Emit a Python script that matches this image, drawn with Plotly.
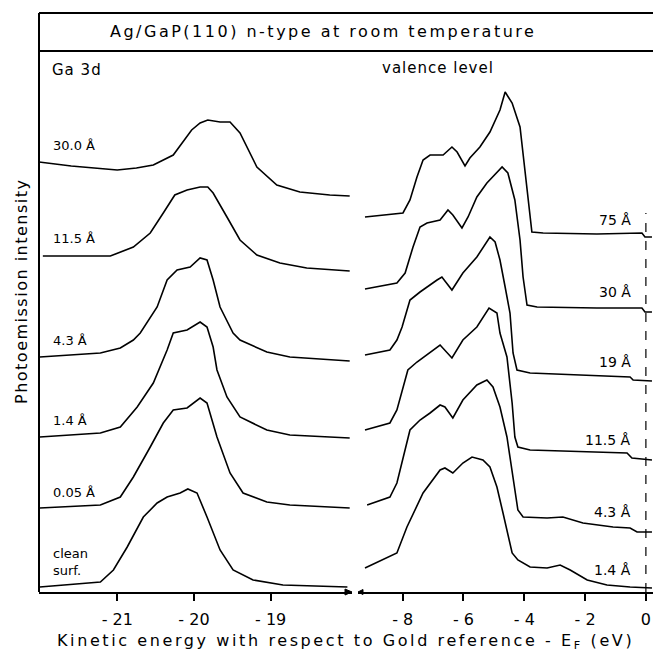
import plotly.graph_objects as go

# ---------------- data ----------------
# Ga 3d core level spectra: kinetic energy (eV) and intensity (arb. units, stacked)
ga_labels = ["30.0 Å", "11.5 Å", "4.3 Å", "1.4 Å", "0.05 Å", "clean<br>surf."]
ga_energy = [
    [-22.02, -21.6, -21.3, -21.0, -20.75, -20.53, -20.27, -20.03, -19.92, -19.82, -19.66, -19.53, -19.40, -19.18, -18.92, -18.62, -18.23, -17.97],
    [-21.97, -21.09, -20.79, -20.57, -20.40, -20.25, -20.09, -19.92, -19.82, -19.75, -19.57, -19.40, -19.18, -18.88, -18.53, -18.23, -17.97],
    [-22.01, -21.22, -20.96, -20.79, -20.70, -20.48, -20.35, -20.22, -20.05, -19.92, -19.83, -19.75, -19.66, -19.49, -19.40, -19.05, -18.75, -18.23, -17.97],
    [-22.01, -21.22, -20.96, -20.74, -20.53, -20.35, -20.27, -20.09, -19.92, -19.83, -19.75, -19.70, -19.57, -19.40, -19.05, -18.75, -18.23, -17.97],
    [-22.01, -21.22, -20.96, -20.79, -20.57, -20.40, -20.27, -20.09, -19.92, -19.83, -19.70, -19.53, -19.36, -19.05, -18.75, -18.23, -17.97],
    [-22.01, -21.22, -21.05, -20.87, -20.66, -20.48, -20.35, -20.18, -20.08, -19.96, -19.83, -19.66, -19.49, -19.23, -18.84, -18.00],
]
ga_intensity = [
    [430, 426, 424, 422, 424, 427, 437, 462, 469, 472, 470, 470, 459, 425, 407, 400, 397, 396],
    [336, 336, 345, 359, 379, 397, 402, 405, 405, 399, 375, 352, 337, 329, 324, 322, 321],
    [235, 239, 244, 252, 259, 285, 312, 322, 325, 334, 332, 312, 285, 259, 252, 240, 235, 232, 231],
    [155, 159, 165, 185, 209, 242, 259, 262, 270, 265, 245, 222, 195, 175, 162, 157, 155, 154],
    [84, 87, 95, 115, 145, 169, 182, 184, 194, 189, 155, 119, 99, 90, 87, 85, 84],
    [5, 10, 22, 45, 75, 89, 95, 99, 103, 99, 75, 42, 22, 12, 7, 5],
]
ga_label_y = [447, 354, 252, 172, 100, 30]

# Valence level spectra
vb_labels = ["75 Å", "30 Å", "19 Å", "11.5 Å", "4.3 Å", "1.4 Å"]
vb_energy = [
    [-9.24, -7.99, -7.76, -7.53, -7.33, -7.10, -6.67, -6.38, -6.21, -5.95, -5.79, -5.46, -5.13, -4.80, -4.63, -4.40, -4.14, -4.04, -3.91, -3.75, -3.38, -1.61, -0.13, -0.03, 0.20],
    [-9.24, -8.19, -7.92, -7.66, -7.43, -7.20, -6.77, -6.51, -6.35, -6.05, -5.85, -5.56, -5.23, -4.90, -4.73, -4.54, -4.31, -4.14, -4.04, -3.91, -3.58, -1.61, -0.13, -0.03, 0.20],
    [-9.24, -8.42, -8.19, -8.02, -7.76, -7.43, -6.87, -6.71, -6.38, -6.02, -5.56, -5.13, -4.96, -4.80, -4.63, -4.47, -4.37, -4.24, -3.81, -0.52, -0.42, 0.20],
    [-9.24, -8.42, -8.19, -8.02, -7.83, -7.53, -7.20, -6.77, -6.38, -6.02, -5.56, -5.16, -4.90, -4.80, -4.57, -4.40, -4.31, -4.21, -3.81, -1.61, -0.62, -0.46, 0.20],
    [-9.17, -8.42, -8.19, -8.02, -7.76, -7.43, -7.10, -6.77, -6.61, -6.35, -6.02, -5.56, -5.23, -5.03, -4.80, -4.57, -4.37, -4.21, -4.04, -3.25, -2.73, -2.07, -1.08, -0.52, -0.29, 0.20],
    [-9.24, -8.19, -7.86, -7.33, -6.77, -6.61, -6.35, -6.02, -5.72, -5.36, -5.13, -4.90, -4.70, -4.40, -4.21, -3.81, -3.25, -2.82, -2.49, -1.93, -1.28, -0.52, 0.20],
]
vb_intensity = [
    [375, 379, 392, 415, 432, 437, 437, 445, 440, 426, 434, 445, 460, 482, 500, 489, 465, 439, 399, 360, 359, 358, 359, 355, 355],
    [303, 309, 319, 345, 365, 369, 372, 382, 377, 364, 375, 395, 409, 419, 425, 419, 392, 352, 315, 287, 285, 284, 284, 280, 280],
    [237, 242, 252, 265, 292, 300, 312, 315, 302, 319, 335, 355, 350, 332, 305, 279, 239, 222, 219, 215, 212, 211],
    [162, 169, 182, 202, 222, 230, 237, 247, 234, 252, 265, 284, 279, 259, 235, 189, 155, 145, 142, 140, 139, 134, 132],
    [87, 95, 109, 129, 162, 172, 179, 187, 185, 174, 192, 207, 212, 205, 185, 155, 115, 82, 75, 74, 75, 69, 65, 64, 60, 60],
    [24, 39, 65, 99, 122, 124, 119, 129, 135, 132, 125, 105, 79, 39, 32, 25, 24, 27, 22, 12, 7, 5, 4],
]
vb_label_y = [372, 300, 230, 152, 80, 22]

ga_ticks = [-21, -20, -19]
ga_ticktext = ["- 21", "- 20", "- 19"]
vb_ticks = [-8, -6, -4, -2, 0]
vb_ticktext = ["- 8", "- 6", "- 4", "- 2", "0"]

# ---------------- layout geometry ----------------
W, H = 653, 651
ML, MR, MT, MB = 39, 0, 13, 59
PW, PH = W - ML - MR, H - MT - MB
FONT = "DejaVu Sans"


def px(x):
    return (x - ML) / PW


def py(y):
    return (H - MB - y) / PH


def spaced(t, s):
    return f'<span style="letter-spacing:{s}px">{t}</span>'


fig = go.Figure()
line = dict(color="black", width=1.6)
for e, i in zip(ga_energy, ga_intensity):
    fig.add_trace(go.Scatter(x=e, y=i, mode="lines", line=line, xaxis="x", yaxis="y",
                             showlegend=False, hoverinfo="skip"))
for e, i in zip(vb_energy, vb_intensity):
    fig.add_trace(go.Scatter(x=e, y=i, mode="lines", line=line, xaxis="x2", yaxis="y",
                             showlegend=False, hoverinfo="skip"))

annotations = []
for lab, y in zip(ga_labels, ga_label_y):
    annotations.append(dict(x=-21.86, y=y, xref="x", yref="y", text=lab, showarrow=False,
                            xanchor="left", yanchor="middle", align="left",
                            font=dict(size=13, family=FONT, color="black")))
for lab, y in zip(vb_labels, vb_label_y):
    annotations.append(dict(x=-0.42, y=y, xref="x2", yref="y", text=lab, showarrow=False,
                            xanchor="right", yanchor="middle",
                            font=dict(size=14, family=FONT, color="black")))

annotations += [
    dict(x=px(323), y=py(32), xref="paper", yref="paper",
         text=spaced("Ag/GaP(110) n-type at room temperature", 2.5), showarrow=False,
         xanchor="center", yanchor="middle", font=dict(size=16, family=FONT, color="black")),
    dict(x=px(50), y=py(70), xref="paper", yref="paper", text=spaced("Ga 3d", 1),
         showarrow=False, xanchor="left", yanchor="middle",
         font=dict(size=15, family=FONT, color="black")),
    dict(x=px(438), y=py(68), xref="paper", yref="paper", text=spaced("valence level", 1),
         showarrow=False, xanchor="center", yanchor="middle",
         font=dict(size=15, family=FONT, color="black")),
    dict(x=px(21), y=py(291), xref="paper", yref="paper",
         text=spaced("Photoemission intensity", 1.5), textangle=-90, showarrow=False,
         xanchor="center", yanchor="middle", font=dict(size=16, family=FONT, color="black")),
    dict(x=px(345), y=py(641), xref="paper", yref="paper",
         text=spaced("Kinetic energy with respect to Gold reference - E<sub>F</sub> (eV)", 2.6),
         showarrow=False, xanchor="center", yanchor="middle",
         font=dict(size=16, family=FONT, color="black")),
]

shapes = [
    # frame / title box
    dict(type="line", xref="paper", yref="paper", x0=0, x1=0, y0=0, y1=1,
         line=dict(color="black", width=2)),
    dict(type="line", xref="paper", yref="paper", x0=0, x1=1, y0=1, y1=1,
         line=dict(color="black", width=2)),
    dict(type="line", xref="paper", yref="paper", x0=0, x1=1, y0=py(51), y1=py(51),
         line=dict(color="black", width=2)),
    # Fermi level marker
    dict(type="line", xref="x2", yref="y", x0=0, x1=0, y0=0, y1=379,
         line=dict(color="black", width=1.2, dash="dash")),
    # axis break arrowheads
    dict(type="path", xref="paper", yref="paper",
         path=f"M {px(345)} {py(589)} L {px(352)} {py(592)} L {px(345)} {py(595)} Z",
         fillcolor="black", line=dict(color="black", width=1)),
    dict(type="path", xref="paper", yref="paper",
         path=f"M {px(363)} {py(589.5)} L {px(358)} {py(592)} L {px(363)} {py(594.5)} Z",
         fillcolor="black", line=dict(color="black", width=1)),
]

axis_common = dict(showline=True, linecolor="black", linewidth=2, ticks="outside", ticklen=7,
                   tickwidth=1.5, tickcolor="black", showgrid=False, zeroline=False,
                   tickfont=dict(size=16, family=FONT, color="black"), ticklabelstandoff=5,
                   fixedrange=True)

fig.update_layout(
    width=W, height=H,
    margin=dict(l=ML, r=MR, t=MT, b=MB, pad=0),
    paper_bgcolor="white", plot_bgcolor="white",
    xaxis=dict(domain=[0, px(352)], range=[-22.02, -17.94], tickvals=ga_ticks,
               ticktext=ga_ticktext, anchor="y", **axis_common),
    xaxis2=dict(domain=[px(358), 1], range=[-9.47, 0.234], tickvals=vb_ticks,
                ticktext=vb_ticktext, anchor="y", **axis_common),
    yaxis=dict(domain=[0, py(51)], range=[0, 541], visible=False, fixedrange=True),
    annotations=annotations,
    shapes=shapes,
    showlegend=False,
)

fig.write_html("out.html")
